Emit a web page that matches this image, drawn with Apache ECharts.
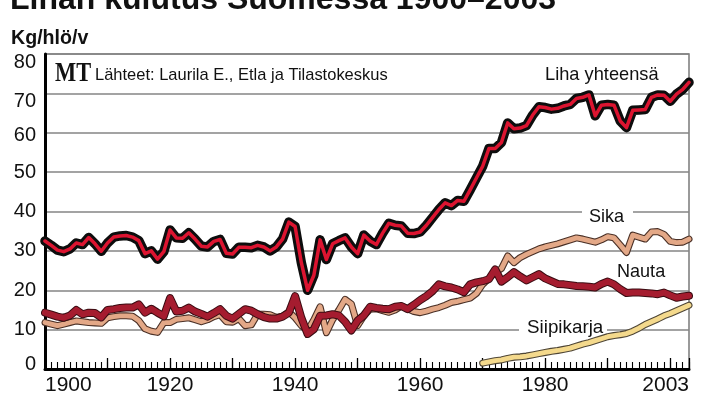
<!DOCTYPE html>
<html>
<head>
<meta charset="utf-8">
<script src="https://cdn.jsdelivr.net/npm/echarts@6/dist/echarts.min.js"></script>
<style>
  html, body { margin: 0; padding: 0; background: #fff; }
  #container { width: 702px; height: 400px; }
</style>
</head>
<body>
<div id="container"></div>
<script>
var startYear = 1900;
var endYear = 2003;

// kg / henkilö / vuosi, 1900-2003
var liha = [
  32.5, 31.4, 30.2, 29.8, 30.5, 32.0, 31.6, 33.4, 31.8, 29.9,
  32.0, 33.5, 33.8, 33.9, 33.5, 32.6, 29.3, 30.0, 27.9, 29.8,
  35.3, 33.3, 33.2, 34.6, 33.0, 31.2, 31.0, 32.4, 32.9, 29.4,
  29.2, 30.9, 30.9, 30.8, 31.4, 31.0, 30.0, 31.0, 33.0, 37.3,
  36.2, 27.0, 20.0, 23.8, 32.8, 27.8, 31.8, 32.6, 33.3, 31.0,
  29.3, 34.0, 32.5, 31.6, 34.5, 37.0, 36.5, 36.3, 34.5, 34.4,
  34.8, 36.5, 38.5, 40.5, 42.2, 41.5, 42.8, 42.6, 45.5, 48.5,
  51.5, 56.0, 56.0, 57.5, 62.5, 61.0, 61.2, 61.8, 64.5, 66.6,
  66.4, 66.0, 66.2, 66.8, 67.2, 68.7, 69.0, 69.6, 64.3, 67.0,
  67.2, 67.0, 63.0, 61.3, 65.7, 65.8, 65.9, 69.0, 69.6, 69.5,
  68.0, 69.8, 71.0, 72.8
];
var nauta = [
  14.3, 13.8, 13.3, 13.0, 13.6, 15.0, 13.9, 14.3, 14.2, 13.1,
  15.0, 15.2, 15.5, 15.6, 15.6, 16.4, 14.3, 15.3, 14.3, 13.4,
  18.0, 14.6, 14.8, 15.6, 14.6, 14.0, 13.3, 14.2, 15.2, 13.5,
  12.8, 14.0, 15.2, 14.8, 13.9, 13.2, 12.8, 12.8, 13.3, 14.3,
  18.5, 13.0, 8.9, 10.1, 13.5, 13.6, 13.9, 13.6, 12.0, 9.8,
  12.3, 13.6, 15.8, 15.5, 15.3, 15.2, 15.8, 16.0, 15.2, 16.3,
  17.5, 18.5, 19.8, 21.5, 21.0, 20.7, 20.2, 19.5, 21.5, 22.0,
  22.3, 22.8, 25.3, 22.2, 23.3, 24.6, 23.5, 22.5, 23.3, 24.1,
  23.0, 22.3, 21.6, 21.5, 21.3, 21.1, 21.0, 20.9, 20.7, 21.6,
  22.2, 21.5, 20.3, 19.3, 19.4, 19.4, 19.3, 19.2, 19.0, 19.4,
  18.7, 18.1, 18.4, 18.6
];
var sika = [
  11.8, 11.4, 11.0, 11.4, 11.8, 12.2, 12.0, 11.8, 11.7, 11.6,
  13.0, 13.3, 13.5, 13.5, 13.4, 12.3, 10.2, 9.6, 9.3, 11.8,
  11.8, 12.6, 12.8, 13.0, 12.5, 12.0, 12.5, 13.3, 13.8, 12.0,
  11.9, 12.8, 11.0, 11.2, 13.9, 13.9, 13.8, 13.1, 13.4, 14.5,
  13.0, 11.0, 9.8, 12.5, 15.8, 9.2, 12.5, 15.0, 17.7, 16.5,
  11.0, 13.5, 15.2, 15.3, 14.8, 14.4, 15.0, 16.0, 15.3, 14.6,
  14.3, 14.7, 15.2, 15.6, 16.2, 16.9, 17.2, 17.6, 18.0, 19.2,
  21.5, 23.0, 24.5, 25.5, 28.7, 27.0, 28.3, 29.1, 29.8, 30.5,
  31.0, 31.4, 31.8, 32.3, 32.8, 33.3, 33.0, 32.6, 32.2, 32.8,
  33.6, 33.3, 31.5, 29.6, 34.0, 33.5, 33.0, 34.8, 34.9, 34.2,
  32.4, 32.1, 32.2, 33.0
];
// siipikarja 1970-2003
var siipiStart = 1970;
var siipikarja = [
  1.5, 1.8, 2.1, 2.3, 2.7, 3.0, 3.1, 3.3, 3.6, 3.9,
  4.2, 4.5, 4.7, 5.0, 5.3, 5.8, 6.3, 6.7, 7.2, 7.7,
  8.2, 8.5, 8.7, 9.0, 9.6, 10.4, 11.3, 12.0, 12.7, 13.5,
  14.1, 14.8, 15.5, 16.2
];
var xLabels = [1900, 1920, 1940, 1960, 1980, 2003];

function pairs(arr, y0) {
  return arr.map(function (v, i) { return [y0 + i, v]; });
}

var myChart = echarts.init(document.getElementById('container'));

var font = 'Liberation Sans, Arial, sans-serif';

// paksu tumma reunaviiva + värillinen sisäviiva
function line(name, data, color, width, z) {
  return {
    name: name, type: 'line', data: data, symbol: 'none', z: z,
    xAxisIndex: 0,
    lineStyle: { color: color, width: width, join: 'round', cap: 'round' },
    silent: true
  };
}

function label(text, x, y, size, sx, bold) {
  return {
    type: 'text', x: x, y: y, scaleX: sx || 1, z: 10,
    style: {
      text: text, fill: '#111',
      font: (bold ? 'bold ' : '') + size + 'px ' + font,
      textAlign: 'left', textVerticalAlign: 'middle'
    }
  };
}

// y-akselin tekstit on siirretty hieman kuten alkuperäisessä
var yRich = {
  n: { fontSize: 20, fontFamily: font, color: '#111' },
  t80: { fontSize: 20, fontFamily: font, color: '#111', padding: [16, 0, 0, 0] },
  t70: { fontSize: 20, fontFamily: font, color: '#111', padding: [17, 0, 0, 0] },
  t60: { fontSize: 20, fontFamily: font, color: '#111', padding: [5, 0, 0, 0] },
  t0: { fontSize: 20, fontFamily: font, color: '#111', padding: [0, 0, 9, 0] }
};

var option = {
  animation: false,
  backgroundColor: '#fff',
  grid: {
    left: 45, right: 13, top: 54, bottom: 31,
    show: true, borderColor: '#7a7a7a', borderWidth: 1.5
  },
  xAxis: [
    {
      type: 'value', min: startYear, max: endYear, interval: 10,
      position: 'bottom',
      axisLine: { onZero: false, lineStyle: { color: '#000', width: 3 } },
      axisTick: { inside: true, length: 11, lineStyle: { color: '#000', width: 1.3 } },
      splitLine: { show: false },
      axisLabel: {
        interval: 0, margin: 6, color: '#111', fontSize: 21, fontFamily: font,
        alignMinLabel: 'left', alignMaxLabel: 'right',
        formatter: function (v) { return xLabels.indexOf(v) >= 0 ? String(v) : ''; }
      }
    },
    {
      type: 'value', min: startYear, max: endYear, interval: 1,
      position: 'bottom',
      axisLine: { show: false, onZero: false },
      axisTick: { inside: true, length: 7, lineStyle: { color: '#000', width: 1.1 } },
      splitLine: { show: false },
      axisLabel: { show: false }
    }
  ],
  yAxis: {
    type: 'value', min: 0, max: 80, interval: 10,
    axisLine: { show: true, lineStyle: { color: '#000', width: 3 } },
    axisTick: { show: false },
    splitLine: { lineStyle: { color: '#858585', width: 1.5 } },
    axisLabel: {
      margin: 9, color: '#111', fontSize: 20, fontFamily: font,
      formatter: function (v) {
        var k = yRich['t' + v] ? 't' + v : 'n';
        return '{' + k + '|' + v + '}';
      },
      rich: yRich
    }
  },
  graphic: [
    label('Lihan kulutus Suomessa 1900–2003', 10, 0, 32, 1.0, true),
    label('Kg/hlö/v', 11, 38, 20, 0.98, true),
    {
      type: 'text', x: 55, y: 74, scaleX: 0.8, z: 10,
      style: { text: 'MT', fill: '#111', font: 'bold 28px Liberation Serif, serif', textAlign: 'left', textVerticalAlign: 'middle' }
    },
    label('Lähteet: Laurila E., Etla ja Tilastokeskus', 95, 75, 17, 0.97),
    label('Liha yhteensä', 545, 75, 19, 0.96),
    { type: 'rect', z: 5, shape: { x: 582, y: 205, width: 51, height: 24 }, style: { fill: '#fff' } },
    label('Sika', 589, 217, 19, 0.95),
    label('Nauta', 617, 272, 19, 0.95),
    { type: 'rect', z: 5, shape: { x: 519, y: 317, width: 88, height: 24 }, style: { fill: '#fff' } },
    label('Siipikarja', 527, 328, 19, 0.99)
  ],
  series: [
    line('Sika reuna', pairs(sika, startYear), '#4a3026', 7, 2),
    line('Sika', pairs(sika, startYear), '#e3a887', 4.8, 3),
    line('Nauta reuna', pairs(nauta, startYear), '#3a0c12', 8, 4),
    line('Nauta', pairs(nauta, startYear), '#a51c2f', 6, 5),
    line('Siipikarja reuna', pairs(siipikarja, siipiStart), '#4f4636', 7, 6),
    line('Siipikarja', pairs(siipikarja, siipiStart), '#f4d98c', 4.8, 7),
    line('Liha reuna', pairs(liha, startYear), '#0d0d0d', 9.5, 8),
    line('Liha yhteensä', pairs(liha, startYear), '#dc1430', 3.5, 9)
  ]
};

myChart.setOption(option);
</script>
</body>
</html>
